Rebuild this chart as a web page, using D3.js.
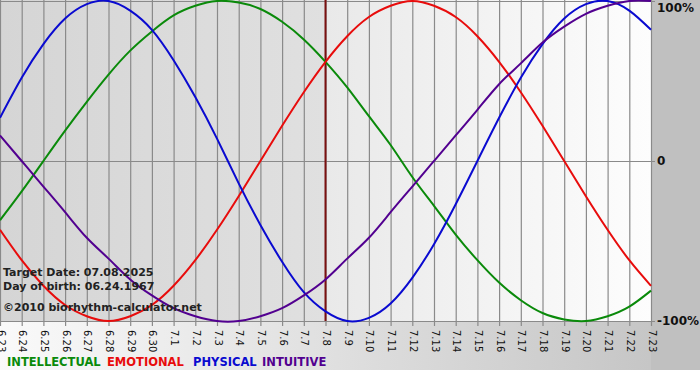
<!DOCTYPE html>
<html><head><meta charset="utf-8">
<script src="https://cdn.jsdelivr.net/npm/d3@7"></script>
<style>html,body{margin:0;padding:0;background:#fff;}svg{display:block;}</style>
</head><body>
<script>
const dayLabels = ["6.23","6.24","6.25","6.26","6.27","6.28","6.29","6.30","7.1","7.2","7.3","7.4","7.5","7.6","7.7","7.8","7.9","7.10","7.11","7.12","7.13","7.14","7.15","7.16","7.17","7.18","7.19","7.20","7.21","7.22","7.23"];
const intellectual = [-0.37,-0.19,0,0.19,0.37,0.54,0.69,0.81,0.91,0.97,1.00,0.99,0.95,0.87,0.76,0.62,0.46,0.28,0.10,-0.10,-0.28,-0.46,-0.62,-0.76,-0.87,-0.95,-0.99,-1.00,-0.97,-0.91,-0.81];
const emotional = [-0.43,-0.62,-0.78,-0.90,-0.97,-1.00,-0.97,-0.90,-0.78,-0.62,-0.43,-0.22,0,0.22,0.43,0.62,0.78,0.90,0.97,1.00,0.97,0.90,0.78,0.62,0.43,0.22,0,-0.22,-0.43,-0.62,-0.78];
const physical = [0.27,0.52,0.73,0.89,0.98,1.00,0.94,0.82,0.63,0.40,0.14,-0.14,-0.40,-0.63,-0.82,-0.94,-1.00,-0.98,-0.89,-0.73,-0.52,-0.27,0,0.27,0.52,0.73,0.89,0.98,1.00,0.94,0.82];
const intuitive = [0.16,0,-0.16,-0.32,-0.48,-0.61,-0.74,-0.84,-0.92,-0.97,-1.00,-1.00,-0.97,-0.92,-0.84,-0.74,-0.61,-0.48,-0.32,-0.16,0,0.16,0.32,0.48,0.61,0.74,0.84,0.92,0.97,1.00,1.00];
const yTicks = [1, 0, -1];
const yTickLabels = ["100%", "0", "-100%"];
const targetIndex = 15;
const infoLines = ["Target Date: 07.08.2025", "Day of birth: 06.24.1967", "\u00a92010 biorhythm-calculator.net"];
const seriesNames = ["INTELLECTUAL","EMOTIONAL","PHYSICAL","INTUITIVE"];
const seriesColors = ["#0a8a0a","#e80c0c","#0a0ad0","#520090"];

const W = 700, H = 380;
const plotL = 0, plotR = 651, plotT = 1, plotB = 321;
const svg = d3.select("body").append("svg").attr("width", W).attr("height", H);
const defs = svg.append("defs");
function grad(id, c0, c1) {
  const g = defs.append("linearGradient").attr("id", id).attr("x1","0").attr("x2","1").attr("y1","0").attr("y2","0");
  g.append("stop").attr("offset","0").attr("stop-color", c0);
  g.append("stop").attr("offset","1").attr("stop-color", c1);
}
grad("gL", "#d5d5d5", "#e0e0e0");
grad("gR", "#e9e9e9", "#fdfdfd");
grad("gB", "#fafafa", "#c2c2c2");

const x = d3.scaleLinear().domain([0, dayLabels.length - 1]).range([plotL, plotR]);
const y = d3.scaleLinear().domain([-1, 1]).range([plotB, plotT]);

// backgrounds
svg.append("rect").attr("x",0).attr("y",plotB).attr("width",W).attr("height",370-plotB).attr("fill","url(#gB)");
svg.append("rect").attr("x",plotR).attr("y",0).attr("width",W-plotR).attr("height",370).attr("fill","#c0c0c0");
svg.append("rect").attr("x",plotL).attr("y",0).attr("width",x(targetIndex)-plotL).attr("height",plotB).attr("fill","url(#gL)");
svg.append("rect").attr("x",x(targetIndex)).attr("y",0).attr("width",plotR-x(targetIndex)).attr("height",plotB).attr("fill","url(#gR)");

// vertical grid + ticks
const xAxis = d3.axisBottom(x).tickValues(d3.range(dayLabels.length)).tickSize(plotB + 5).tickFormat(i => dayLabels[i]);
const gx = svg.append("g").call(xAxis);
gx.select(".domain").remove();
gx.selectAll(".tick line").attr("stroke", "#8a8a8a").attr("stroke-width", 1.2);
gx.selectAll(".tick text")
  .attr("font-family", "DejaVu Sans, Verdana, sans-serif").attr("font-size", 10).attr("fill", "#111")
  .attr("text-anchor", "start").attr("dy", null)
  .attr("transform", "translate(-3," + (plotB + 9) + ") rotate(90)")
  .attr("y", 0).attr("x", 0);

// horizontal grid + right labels
const yAxis = d3.axisRight(y).tickValues(yTicks).tickSize(plotR + 4).tickFormat((d, i) => yTickLabels[i]);
const gy = svg.append("g").call(yAxis);
gy.select(".domain").remove();
gy.selectAll(".tick line").attr("stroke", "#8a8a8a").attr("stroke-width", 1.2);
gy.selectAll(".tick text")
  .attr("font-family", "DejaVu Sans, Verdana, sans-serif").attr("font-size", 12).attr("font-weight", "bold").attr("fill", "#111")
  .attr("x", plotR + 6);
gy.selectAll(".tick").filter(d => d === 1).select("text").attr("dy", "0.75em").attr("y", 1);

// target date line
svg.append("line").attr("x1", x(targetIndex)).attr("x2", x(targetIndex)).attr("y1", 0).attr("y2", plotB)
  .attr("stroke", "#7a1010").attr("stroke-width", 2);

// curves
const allSeries = [intellectual, emotional, physical, intuitive];
const line = d3.line().x((d, i) => x(i)).y(d => y(d)).curve(d3.curveNatural);
allSeries.forEach((s, k) => {
  svg.append("path").datum(s).attr("d", line).attr("fill", "none")
    .attr("stroke", seriesColors[k]).attr("stroke-width", 2);
});

// info text
infoLines.forEach((t, i) => {
  svg.append("text").attr("x", 3).attr("y", [276, 290, 311][i]).text(t)
    .attr("font-family", "DejaVu Sans, Verdana, sans-serif").attr("font-size", 11).attr("font-weight", "bold").attr("fill", "#222");
});

// legend
const legendX = [7, 107, 193, 262];
seriesNames.forEach((n, i) => {
  svg.append("text").attr("x", legendX[i]).attr("y", 366).text(n)
    .attr("font-family", "DejaVu Sans, Verdana, sans-serif").attr("font-size", 11.5).attr("font-weight", "bold").attr("fill", seriesColors[i]);
});
</script>
</body></html>
